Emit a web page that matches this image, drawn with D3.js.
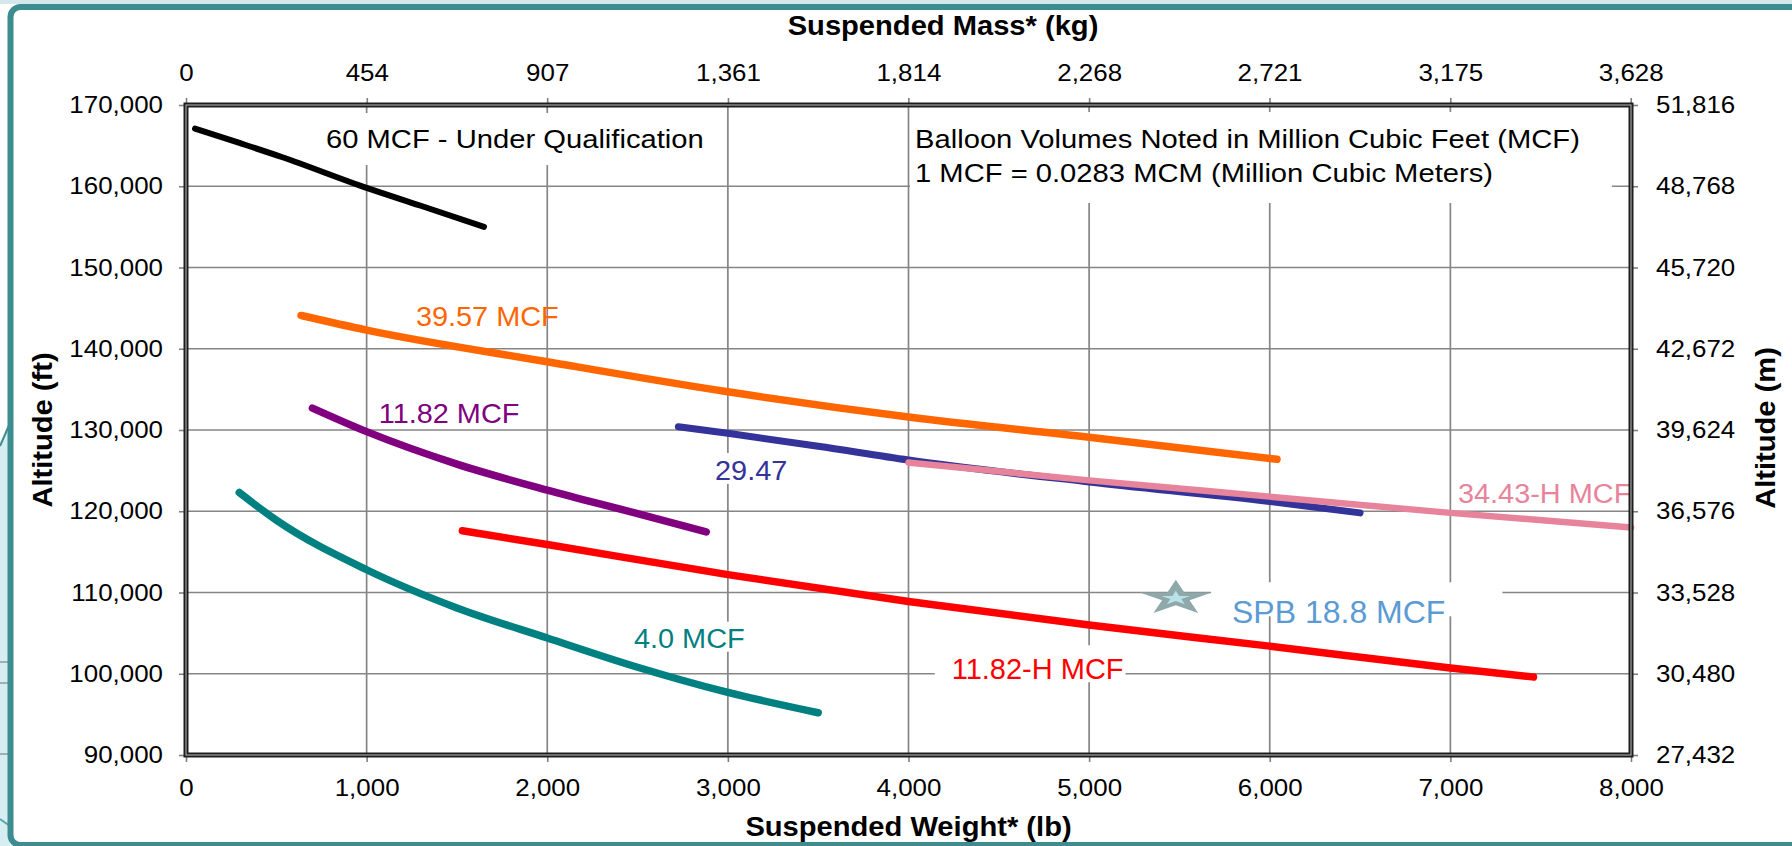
<!DOCTYPE html>
<html><head><meta charset="utf-8">
<script src="https://cdn.jsdelivr.net/npm/d3@7"></script>
<style>
html,body{margin:0;padding:0;background:#fff;overflow:hidden}
svg{display:block;font-family:"Liberation Sans",Arial,Helvetica,sans-serif}
</style></head><body>
<svg id="c" width="1792" height="846"></svg>
<script>
// ---------- data ----------
const weightTicks   = [0,1000,2000,3000,4000,5000,6000,7000,8000];          // lb
const massTicks     = [0,454,907,1361,1814,2268,2721,3175,3628];            // kg
const altitudeTicks = [90000,100000,110000,120000,130000,140000,150000,160000,170000]; // ft
const meterTicks    = [27432,30480,33528,36576,39624,42672,45720,48768,51816];          // m

const w60   = [50,300,530,1000,1300,1650];
const a60   = [167100,165300,163600,159800,157600,155000];
const w3957 = [637,1000,2000,3000,4000,5000,6040];
const a3957 = [144100,142300,138400,134700,131600,129100,126400];
const w1182 = [700,1000,1500,2000,2500,2880];
const a1182 = [132700,129800,125800,122600,119700,117450];
const w2947 = [2726,3000,3500,4000,5000,6000,6500];
const a2947 = [130400,129600,128000,126300,123600,121200,119800];
const w3443H = [4000,5000,6000,7000,8000];
const a3443H = [126000,123800,121800,119800,118000];
const w1182H = [1530,2000,3000,4000,5000,6000,7000,7460];
const a1182H = [117600,115900,112200,108900,106000,103400,100700,99600];
const w40   = [295,500,1000,1500,2000,2500,3000,3500];
const a40   = [122300,118900,112800,108100,104400,100800,97700,95200];
const spbWeight = [5480];
const spbAlt    = [109300];

const seriesNames = ["60 MCF - Under Qualification","39.57 MCF","11.82 MCF","29.47","34.43-H MCF","11.82-H MCF","4.0 MCF","SPB 18.8 MCF"];
const noteLines = ["Balloon Volumes Noted in Million Cubic Feet (MCF)","1 MCF = 0.0283 MCM (Million Cubic Meters)"];

// ---------- layout ----------
const svg = d3.select("#c");
const P = {l:186, r:1631, t:105, b:755};
const x   = d3.scaleLinear().domain([0,8000]).range([P.l,P.r]);
const y   = d3.scaleLinear().domain([90000,170000]).range([P.b,P.t]);
const xKg = d3.scaleLinear().domain([0,8000*0.45359237]).range([P.l,P.r]);
const yM  = d3.scaleLinear().domain([90000*0.3048,170000*0.3048]).range([P.b,P.t]);
const FONT = '"Liberation Sans",Arial,sans-serif';

function stretch(sel,k){
  sel.each(function(){
    if(k===1) return;
    const L=this.getComputedTextLength();
    this.setAttribute("textLength",L*k);
    this.setAttribute("lengthAdjust","spacingAndGlyphs");
  });
}

// background / slide clutter on the left
svg.append("rect").attr("width",1792).attr("height",846).attr("fill","#fff");
svg.append("polygon").attr("points","0,446 10,423 10,846 0,846").attr("fill","#d6edf1");
svg.append("line").attr("x1",0).attr("y1",446).attr("x2",10).attr("y2",423).attr("stroke","#3c8c90").attr("stroke-width",2);
[662,683,754].forEach(v=>svg.append("line").attr("x1",0).attr("x2",10).attr("y1",v).attr("y2",v).attr("stroke","#8b9b9d").attr("stroke-width",1.5));
svg.append("line").attr("x1",0).attr("y1",819).attr("x2",10).attr("y2",826).attr("stroke","#5aa5aa").attr("stroke-width",2);
svg.append("rect").attr("x",0).attr("y",0).attr("width",1792).attr("height",4).attr("fill","#d3e8ea");
svg.append("rect").attr("x",10.5).attr("y",7).attr("width",1800).attr("height",838).attr("rx",10)
  .attr("fill","#fff").attr("stroke","#3c8c90").attr("stroke-width",6);

// gridlines
const grid = svg.append("g").attr("stroke","#868686").attr("stroke-width",1.7);
grid.selectAll(".v").data(weightTicks.filter(d=>d>0&&d<8000)).join("line")
  .attr("x1",d=>x(d)).attr("x2",d=>x(d)).attr("y1",P.t).attr("y2",P.b);
grid.selectAll(".h").data(altitudeTicks.filter(d=>d>90000&&d<170000)).join("line")
  .attr("x1",P.l).attr("x2",P.r).attr("y1",d=>y(d)).attr("y2",d=>y(d));

const boxLayer = svg.append("g");
const lineLayer = svg.append("g");
const textLayer = svg.append("g");

// series lines
const line = d3.line().x(d=>x(d[0])).y(d=>y(d[1])).curve(d3.curveMonotoneX);
const series = [
  {w:w60,   a:a60,   c:"#000000", sw:6},
  {w:w3957, a:a3957, c:"#ff6600", sw:7.5},
  {w:w1182, a:a1182, c:"#800080", sw:7.5},
  {w:w40,   a:a40,   c:"#008080", sw:7.5},
  {w:w1182H,a:a1182H,c:"#ff0000", sw:7.5},
  {w:w2947, a:a2947, c:"#333399", sw:7},
  {w:w3443H,a:a3443H,c:"#e7849b", sw:6.5}
];
series.forEach(s=>{
  lineLayer.append("path").datum(d3.zip(s.w,s.a)).attr("d",line)
    .attr("fill","none").attr("stroke",s.c).attr("stroke-width",s.sw)
    .attr("stroke-linecap","round").attr("stroke-linejoin","round");
});

// SPB star
const star = d3.symbol().type(d3.symbolStar);
const spb = lineLayer.selectAll(".spb").data(d3.zip(spbWeight,spbAlt)).join("g")
  .attr("transform",d=>`translate(${x(d[0])},${y(d[1])}) scale(1.9,0.92)`);
spb.append("path").attr("d",star.size(20*20/0.8908130915292852)()).attr("fill","#8fa9ab");
spb.append("path").attr("d",star.size(8*8/0.8908130915292852)()).attr("fill","#b9e2e6");

// labels
const labels = [
  {t:seriesNames[0], lb:775,  ft:164700, size:25.6, k:1.14, c:"#000",    box:{l:12,r:15,t:12,b:12}},
  {t:seriesNames[1], lb:1273, ft:142840, size:27.5, k:1.05, c:"#ff6600", box:null},
  {t:seriesNames[2], lb:1067, ft:130820, size:27.5, k:1.05, c:"#800080", box:null},
  {t:seriesNames[3], lb:2929, ft:123850, size:27.5, k:1.05, c:"#333399", box:{l:2,r:2,t:2,b:-2}},
  {t:seriesNames[4], lb:7042, ft:120980, size:27,   k:1.07, c:"#e7849b", box:{l:2,r:0,t:2,b:-2}},
  {t:seriesNames[5], lb:4239, ft:99320,  size:29,   k:1.0,  c:"#ff0000", box:{l:17,r:2,t:8,b:-3}},
  {t:seriesNames[6], lb:2480, ft:103210, size:27,   k:1.07, c:"#008080", box:{l:2,r:2,t:2,b:-2}},
  {t:seriesNames[7], lb:5791, ft:106210, size:32,   k:1.0,  c:"#5b9bd5", box:{l:21,r:57,t:12,b:-14}}
];
labels.forEach(L=>{
  const te = textLayer.append("text").attr("x",x(L.lb)).attr("y",y(L.ft))
    .attr("font-size",L.size).attr("fill",L.c).text(L.t);
  stretch(te,L.k);
  if(L.box){
    const bb = te.node().getBBox();
    boxLayer.append("rect").attr("x",bb.x-L.box.l).attr("y",bb.y-L.box.t)
      .attr("width",bb.width+L.box.l+L.box.r).attr("height",bb.height+L.box.t+L.box.b).attr("fill","#fff");
  }
});
// note box
const note = textLayer.append("g");
noteLines.forEach((s,i)=>{
  const te = note.append("text").attr("x",x(4036)).attr("y",y(i===0?164700:160520))
    .attr("font-size",25.6).attr("fill","#000").text(s);
  stretch(te,1.14);
});
{
  const bb = note.node().getBBox();
  boxLayer.append("rect").attr("x",bb.x-5).attr("y",bb.y-13).attr("width",bb.width+5+32).attr("height",bb.height+13+16).attr("fill","#fff");
}

// axes
const fmt = d3.format(",");
function styleAxis(g){
  g.select(".domain").remove();
  g.selectAll(".tick line").attr("stroke","#808080").attr("stroke-width",1.6);
  g.selectAll(".tick text").attr("fill","#000").attr("font-size",24).attr("font-family",FONT);
  stretch(g.selectAll(".tick text"),1.08);
}
svg.append("g").attr("transform",`translate(${P.l},0)`)
  .call(d3.axisLeft(y).tickValues(altitudeTicks).tickFormat(fmt).tickSize(7).tickSizeOuter(0).tickPadding(16)).call(styleAxis);
svg.append("g").attr("transform",`translate(${P.r},0)`)
  .call(d3.axisRight(yM).tickValues(meterTicks).tickFormat(fmt).tickSize(7).tickSizeOuter(0).tickPadding(18)).call(styleAxis);
svg.append("g").attr("transform",`translate(0,${P.b})`)
  .call(d3.axisBottom(x).tickValues(weightTicks).tickFormat(fmt).tickSize(7).tickSizeOuter(0).tickPadding(17)).call(styleAxis);
svg.append("g").attr("transform",`translate(0,${P.t})`)
  .call(d3.axisTop(xKg).tickValues(massTicks).tickFormat(fmt).tickSize(7).tickSizeOuter(0).tickPadding(17)).call(styleAxis);

// plot frame (double line)
svg.append("rect").attr("x",P.l).attr("y",P.t).attr("width",P.r-P.l).attr("height",P.b-P.t)
  .attr("fill","none").attr("stroke","#1e1e1e").attr("stroke-width",5);
svg.append("rect").attr("x",P.l).attr("y",P.t).attr("width",P.r-P.l).attr("height",P.b-P.t)
  .attr("fill","none").attr("stroke","#a0a0a0").attr("stroke-width",1.2);

// axis titles
function title(txt,tx,ty,rot){
  const t = svg.append("text").attr("transform",`translate(${tx},${ty})${rot?" rotate(-90)":""}`)
    .attr("text-anchor","middle").attr("font-size",28).attr("font-weight","bold").attr("fill","#000").text(txt);
  stretch(t,1.04);
}
title("Suspended Mass* (kg)",943,35,false);
title("Suspended Weight* (lb)",(P.l+P.r)/2,836,false);
title("Altitude (ft)",52,430,true);
title("Altitude (m)",1775,428,true);
</script>
</body></html>
